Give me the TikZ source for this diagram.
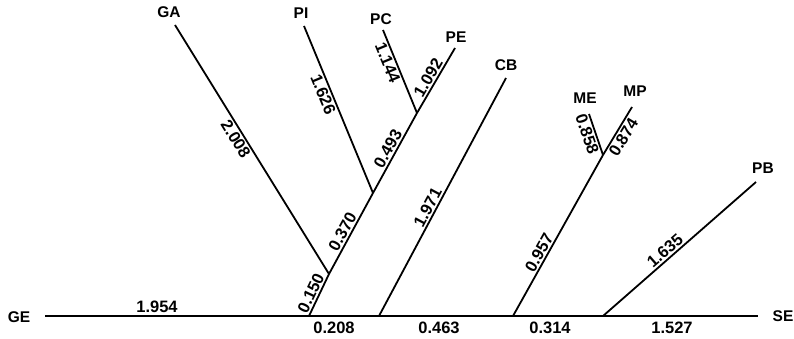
\documentclass[tikz,border=0pt]{standalone}
\usepackage{fontspec}
\setmainfont{Liberation Sans}
\begin{document}
\begin{tikzpicture}[x=1pt,y=-1pt,
  branch/.style={line width=1.8pt},
  taxon/.style={font=\fontsize{15.5}{15.5}\selectfont\bfseries, inner sep=0pt},
  len/.style={font=\fontsize{16.5}{16.5}\selectfont\bfseries, inner sep=1.5pt, sloped},
  hlen/.style={font=\fontsize{16.5}{16.5}\selectfont\bfseries, inner sep=0pt}]
\useasboundingbox (0,0) rectangle (794,339);
% baseline points
\coordinate (L) at (45,316);
\coordinate (R) at (758,316);
\coordinate (J1) at (309,316);
\coordinate (J2) at (379,316);
\coordinate (J3) at (513,316);
\coordinate (J4) at (603,316);
% internal nodes
\coordinate (N1) at (329,274);
\coordinate (N2) at (373,193);
\coordinate (N3) at (417,113);
\coordinate (N4) at (603,155);
% tips
\coordinate (tGA) at (175,25);
\coordinate (tPI) at (304,26);
\coordinate (tPC) at (383,30);
\coordinate (tPE) at (455,48);
\coordinate (tCB) at (506,78);
\coordinate (tME) at (589,114);
\coordinate (tMP) at (632,107);
\coordinate (tPB) at (756,182);
% taxon labels
\node[taxon] (GE) at (19,317) {GE};
\node[taxon] (SE) at (783,316) {SE};
\node[taxon] (GA) at (169,12) {GA};
\node[taxon] (PI) at (301,13) {PI};
\node[taxon] (PC) at (381,19) {PC};
\node[taxon] (PE) at (456,37) {PE};
\node[taxon] (CB) at (506,65) {CB};
\node[taxon] (ME) at (585,98) {ME};
\node[taxon] (MP) at (635,91) {MP};
\node[taxon] (PB) at (763,168) {PB};
% baseline
\draw[branch] (L) -- (R);
\node[hlen] (b1) at (157,307) {1.954};
\node[hlen] (b2) at (334,328) {0.208};
\node[hlen] (b3) at (439,328) {0.463};
\node[hlen] (b4) at (550,328) {0.314};
\node[hlen] (b5) at (672,328) {1.527};
% branches
\draw[branch] (tGA) -- node[len, below, pos=0.44] {2.008} (N1);
\draw[branch] (tPI) -- node[len, below, pos=0.39] {1.626} (N2);
\draw[branch] (tPC) -- node[len, below, pos=0.36] {1.144} (N3);
\draw[branch] (N3) -- node[len, above, pos=0.48] {1.092} (tPE);
\draw[branch] (N2) -- node[len, above, pos=0.50] {0.493} (N3);
\draw[branch] (N1) -- node[len, above, pos=0.47] {0.370} (N2);
\draw[branch] (J1) -- node[len, above, pos=0.46] {0.150} (N1);
\draw[branch] (J2) -- node[len, above, pos=0.44] {1.971} (tCB);
\draw[branch] (J3) -- node[len, above, pos=0.37] {0.957} (N4);
\draw[branch] (tME) -- node[len, below, pos=0.43] {0.858} (N4);
\draw[branch] (N4) -- node[len, below, pos=0.46] {0.874} (tMP);
\draw[branch] (J4) -- node[len, above, pos=0.44] {1.635} (tPB);
\end{tikzpicture}
\end{document}
